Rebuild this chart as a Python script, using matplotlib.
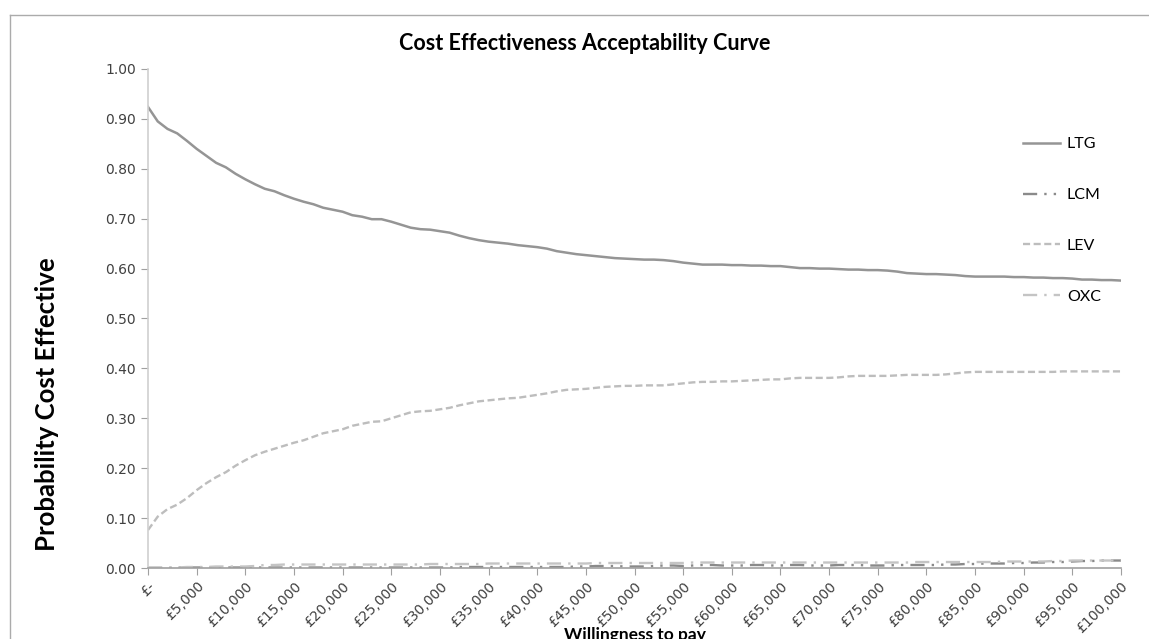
import numpy as np
import matplotlib
matplotlib.use("Agg")
import matplotlib.pyplot as plt
from matplotlib.lines import Line2D
from matplotlib.ticker import FuncFormatter, MultipleLocator

# willingness to pay thresholds, £0 to £100,000 in £1,000 steps
wtp = np.arange(0, 101) * 1000

ltg = [0.924, 0.895, 0.880, 0.871, 0.856, 0.840, 0.826, 0.812, 0.803, 0.790,
       0.779, 0.769, 0.760, 0.755, 0.747, 0.740, 0.734, 0.729, 0.722, 0.718,
       0.714, 0.707, 0.704, 0.699, 0.699, 0.694, 0.688, 0.682, 0.679, 0.678,
       0.675, 0.672, 0.666, 0.661, 0.657, 0.654, 0.652, 0.650, 0.647, 0.645,
       0.643, 0.640, 0.635, 0.632, 0.629, 0.627, 0.625, 0.623, 0.621, 0.620,
       0.619, 0.618, 0.618, 0.617, 0.615, 0.612, 0.610, 0.608, 0.608, 0.608,
       0.607, 0.607, 0.606, 0.606, 0.605, 0.605, 0.603, 0.601, 0.601, 0.600,
       0.600, 0.599, 0.598, 0.598, 0.597, 0.597, 0.596, 0.594, 0.591, 0.590,
       0.589, 0.589, 0.588, 0.587, 0.585, 0.584, 0.584, 0.584, 0.584, 0.583,
       0.583, 0.582, 0.582, 0.581, 0.581, 0.580, 0.578, 0.578, 0.577, 0.577,
       0.576]

lcm = [0.000, 0.000, 0.000, 0.001, 0.001, 0.001, 0.001, 0.001, 0.001, 0.001,
       0.001, 0.001, 0.001, 0.001, 0.001, 0.001, 0.001, 0.001, 0.001, 0.001,
       0.001, 0.001, 0.001, 0.001, 0.001, 0.001, 0.001, 0.001, 0.001, 0.001,
       0.001, 0.001, 0.002, 0.002, 0.002, 0.002, 0.002, 0.002, 0.002, 0.002,
       0.002, 0.002, 0.002, 0.002, 0.003, 0.003, 0.004, 0.004, 0.004, 0.003,
       0.003, 0.003, 0.004, 0.005, 0.005, 0.004, 0.005, 0.006, 0.006, 0.005,
       0.005, 0.005, 0.006, 0.006, 0.005, 0.005, 0.006, 0.006, 0.005, 0.005,
       0.005, 0.006, 0.006, 0.006, 0.005, 0.005, 0.005, 0.006, 0.006, 0.006,
       0.006, 0.006, 0.007, 0.007, 0.008, 0.008, 0.009, 0.009, 0.009, 0.010,
       0.010, 0.011, 0.011, 0.012, 0.012, 0.013, 0.014, 0.014, 0.015, 0.015,
       0.015]

lev = [0.076, 0.103, 0.118, 0.127, 0.140, 0.156, 0.170, 0.182, 0.192, 0.205,
       0.216, 0.226, 0.233, 0.239, 0.245, 0.251, 0.256, 0.263, 0.270, 0.274,
       0.278, 0.285, 0.289, 0.293, 0.294, 0.300, 0.306, 0.312, 0.314, 0.315,
       0.318, 0.321, 0.326, 0.330, 0.334, 0.336, 0.338, 0.340, 0.341, 0.344,
       0.347, 0.350, 0.354, 0.357, 0.358, 0.359, 0.361, 0.363, 0.364, 0.365,
       0.365, 0.366, 0.366, 0.366, 0.368, 0.370, 0.372, 0.373, 0.373, 0.374,
       0.374, 0.375, 0.376, 0.377, 0.378, 0.378, 0.380, 0.381, 0.381, 0.381,
       0.381, 0.382, 0.384, 0.385, 0.385, 0.385, 0.385, 0.386, 0.387, 0.387,
       0.387, 0.387, 0.388, 0.390, 0.392, 0.393, 0.393, 0.393, 0.393, 0.393,
       0.393, 0.393, 0.393, 0.393, 0.394, 0.394, 0.394, 0.394, 0.394, 0.394,
       0.394]

oxc = [0.001, 0.001, 0.001, 0.001, 0.002, 0.002, 0.002, 0.003, 0.003, 0.003,
       0.003, 0.004, 0.006, 0.006, 0.007, 0.007, 0.007, 0.007, 0.007, 0.007,
       0.007, 0.007, 0.007, 0.007, 0.007, 0.007, 0.007, 0.007, 0.007, 0.008,
       0.008, 0.008, 0.008, 0.008, 0.008, 0.009, 0.009, 0.009, 0.009, 0.009,
       0.009, 0.009, 0.009, 0.009, 0.009, 0.009, 0.010, 0.010, 0.010, 0.010,
       0.010, 0.010, 0.010, 0.010, 0.010, 0.010, 0.011, 0.011, 0.011, 0.011,
       0.011, 0.011, 0.011, 0.011, 0.011, 0.011, 0.011, 0.011, 0.011, 0.011,
       0.011, 0.011, 0.011, 0.011, 0.011, 0.011, 0.011, 0.011, 0.011, 0.012,
       0.012, 0.012, 0.012, 0.012, 0.012, 0.012, 0.012, 0.012, 0.013, 0.013,
       0.013, 0.013, 0.013, 0.014, 0.014, 0.015, 0.015, 0.015, 0.015, 0.015,
       0.015]

series = ["LTG", "LCM", "LEV", "OXC"]

fig = plt.figure(figsize=(11.49, 6.39), dpi=100)
ax = fig.add_axes([148 / 1149, 1 - 568 / 639, (1121 - 148) / 1149, (568 - 69) / 639])

ax.plot(wtp, ltg, color="#959595", lw=1.8, label="LTG")
ax.plot(wtp, lcm, color="#8a8a8a", lw=1.7, dashes=(6, 3, 1, 3, 1, 3), label="LCM")
ax.plot(wtp, lev, color="#bdbdbd", lw=1.7, dashes=(3, 1.5), label="LEV")
ax.plot(wtp, oxc, color="#c4c4c4", lw=1.7, dashes=(6, 3, 1, 3), label="OXC")

ax.set_xlim(0, 100000)
ax.set_ylim(0, 1)
ax.xaxis.set_major_locator(MultipleLocator(5000))
ax.yaxis.set_major_locator(MultipleLocator(0.1))
ax.xaxis.set_major_formatter(FuncFormatter(lambda v, p: "£-" if v == 0 else f"£{int(v):,}"))
ax.yaxis.set_major_formatter(FuncFormatter(lambda v, p: f"{v:.2f}"))

for s in ["top", "right"]:
    ax.spines[s].set_visible(False)
ax.spines["left"].set_color("#d0d0d0")
ax.spines["bottom"].set_color("#a0a0a0")
ax.spines["left"].set_linewidth(1.2)
ax.spines["bottom"].set_linewidth(1.2)
ax.tick_params(axis="both", colors="#a0a0a0", labelcolor="#404040", labelsize=10, length=5)
ax.tick_params(axis="x", pad=3)
for lbl in ax.get_xticklabels():
    lbl.set_rotation(45)
    lbl.set_ha("right")
    lbl.set_va("top")
    lbl.set_rotation_mode("anchor")

fig.text(585 / 1149, 1 - 43 / 639, "Cost Effectiveness Acceptability Curve",
         family="Lato", weight="bold", fontsize=15.5, ha="center", va="center")
fig.text(47 / 1149, 1 - 404 / 639, "Probability Cost Effective",
         family="Lato", weight="bold", fontsize=18.5, rotation=90, ha="center", va="center")
fig.text(635 / 1149, 1 - 627 / 639, "Willingness to pay",
         family="Lato", weight="bold", fontsize=12.5, ha="center", va="top")

leg = ax.legend(loc="upper left", bbox_to_anchor=(1023 / 1149, 1 - 137 / 639),
                bbox_transform=fig.transFigure, frameon=False, borderpad=0,
                borderaxespad=0, handlelength=2.3, handletextpad=0.45,
                labelspacing=2.3, prop={"family": "Lato", "size": 11.5})

# outer chart border
fig.add_artist(Line2D([10 / 1149, 1], [1 - 15 / 639, 1 - 15 / 639], color="#ababab", lw=1))
fig.add_artist(Line2D([10 / 1149, 10 / 1149], [0, 1 - 15 / 639], color="#ababab", lw=1))

fig.savefig("out.png", dpi=100)
